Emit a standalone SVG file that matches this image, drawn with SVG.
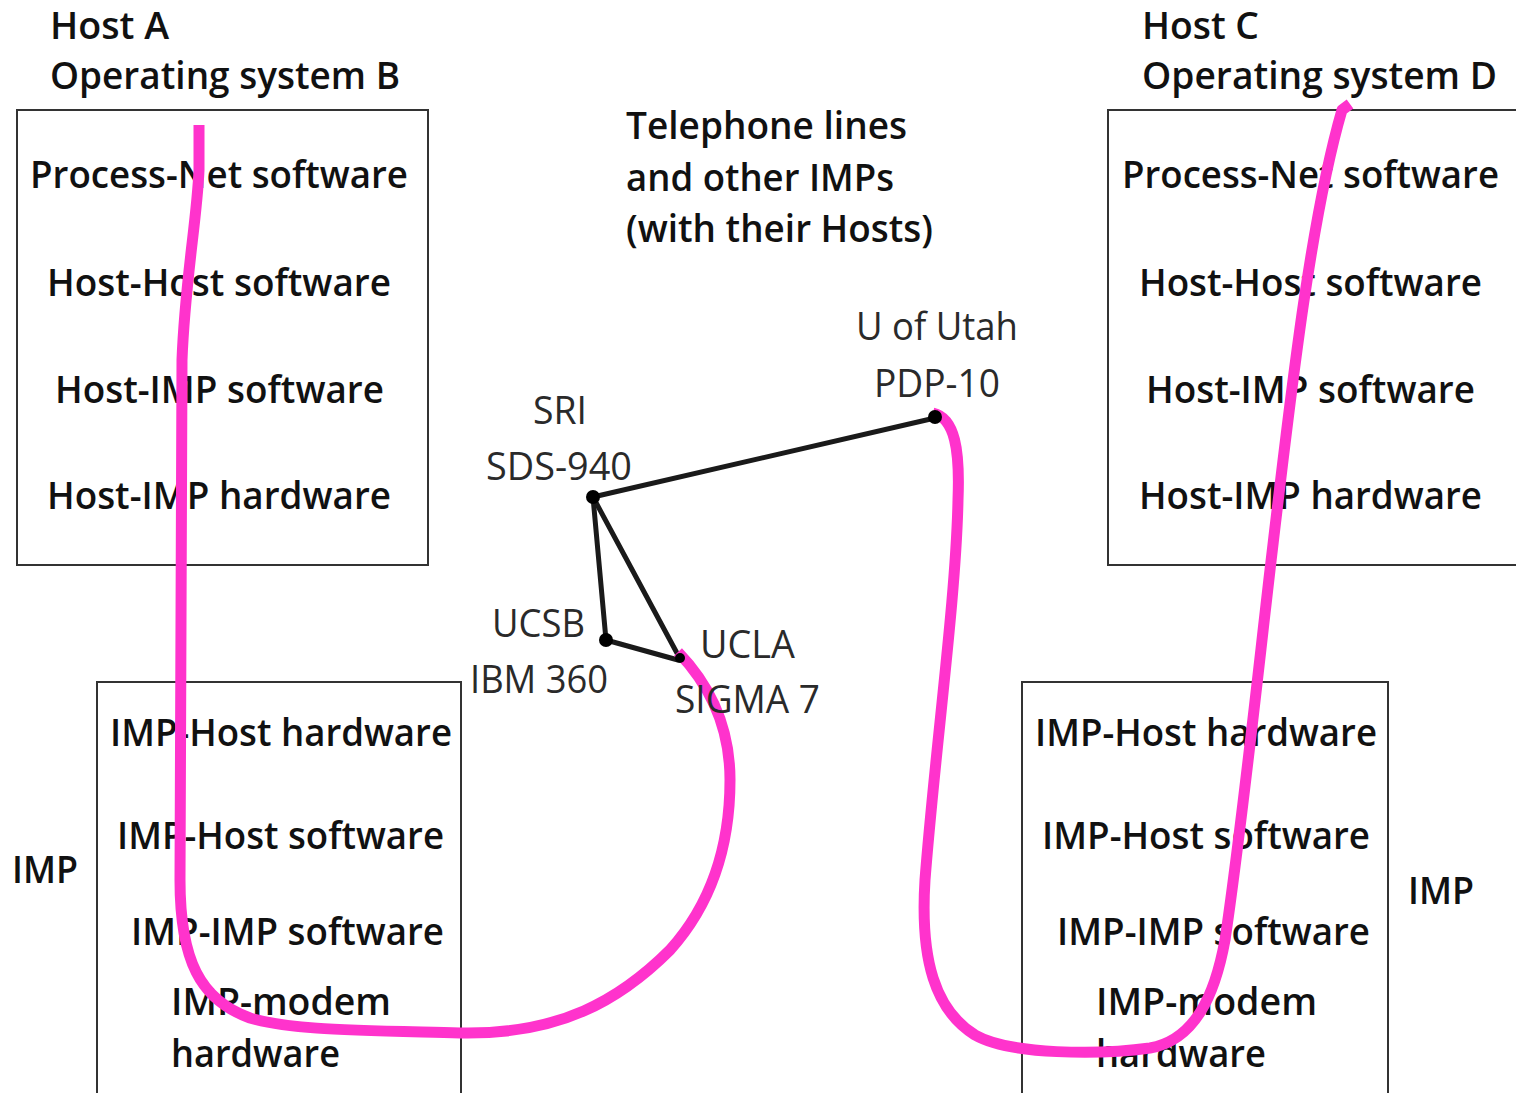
<svg xmlns="http://www.w3.org/2000/svg" width="1516" height="1093" viewBox="0 0 1516 1093">
<style>
text{font-family:"Open Sans","Noto Sans","Liberation Sans",sans-serif;fill:#111;font-size:37px;font-weight:600}
.sm{fill:#2a2a2a;font-size:38px;font-weight:400}
.box{fill:none;stroke:#333;stroke-width:2}
.link{stroke:#1a1a1a;stroke-width:5;fill:none;stroke-linecap:round}
.dot{fill:#000}
.pink{fill:none;stroke:#ff33cc;stroke-width:11;stroke-linecap:butt;stroke-linejoin:round}
</style>
<rect width="1516" height="1093" fill="#fff"/>
<g id="hostA">
<text x="50" y="39" textLength="119" lengthAdjust="spacingAndGlyphs">Host A</text>
<text x="50" y="89" textLength="350" lengthAdjust="spacingAndGlyphs">Operating system B</text>
<rect class="box" x="17" y="110" width="411" height="455"/>
<text x="30" y="188" textLength="378" lengthAdjust="spacingAndGlyphs">Process-Net software</text>
<text x="47" y="296" textLength="344" lengthAdjust="spacingAndGlyphs">Host-Host software</text>
<text x="55" y="403" textLength="329" lengthAdjust="spacingAndGlyphs">Host-IMP software</text>
<text x="47" y="509" textLength="344" lengthAdjust="spacingAndGlyphs">Host-IMP hardware</text>
</g>
<g id="hostC">
<text x="1142" y="39" textLength="117" lengthAdjust="spacingAndGlyphs">Host C</text>
<text x="1142" y="89" textLength="355" lengthAdjust="spacingAndGlyphs">Operating system D</text>
<rect class="box" x="1108" y="110" width="420" height="455"/>
<text x="1122" y="188" textLength="377" lengthAdjust="spacingAndGlyphs">Process-Net software</text>
<text x="1139" y="296" textLength="343" lengthAdjust="spacingAndGlyphs">Host-Host software</text>
<text x="1146" y="403" textLength="329" lengthAdjust="spacingAndGlyphs">Host-IMP software</text>
<text x="1139" y="509" textLength="343" lengthAdjust="spacingAndGlyphs">Host-IMP hardware</text>
</g>
<g id="telephone">
<text x="626" y="139" textLength="281" lengthAdjust="spacingAndGlyphs">Telephone lines</text>
<text x="626" y="191" textLength="268" lengthAdjust="spacingAndGlyphs">and other IMPs</text>
<text x="626" y="242" textLength="307" lengthAdjust="spacingAndGlyphs">(with their Hosts)</text>
</g>
<g id="impLeft">
<text x="12" y="883" textLength="66" lengthAdjust="spacingAndGlyphs">IMP</text>
<rect class="box" x="97" y="682" width="364" height="430"/>
<text x="110" y="746" textLength="342" lengthAdjust="spacingAndGlyphs">IMP-Host hardware</text>
<text x="117" y="849" textLength="327" lengthAdjust="spacingAndGlyphs">IMP-Host software</text>
<text x="131" y="945" textLength="313" lengthAdjust="spacingAndGlyphs">IMP-IMP software</text>
<text x="171" y="1015" textLength="220" lengthAdjust="spacingAndGlyphs">IMP-modem</text>
<text x="171" y="1067" textLength="169" lengthAdjust="spacingAndGlyphs">hardware</text>
</g>
<g id="impRight">
<text x="1408" y="904" textLength="66" lengthAdjust="spacingAndGlyphs">IMP</text>
<rect class="box" x="1022" y="682" width="366" height="430"/>
<text x="1035" y="746" textLength="342" lengthAdjust="spacingAndGlyphs">IMP-Host hardware</text>
<text x="1042" y="849" textLength="328" lengthAdjust="spacingAndGlyphs">IMP-Host software</text>
<text x="1057" y="945" textLength="313" lengthAdjust="spacingAndGlyphs">IMP-IMP software</text>
<text x="1096" y="1015" textLength="221" lengthAdjust="spacingAndGlyphs">IMP-modem</text>
<text x="1096" y="1067" textLength="170" lengthAdjust="spacingAndGlyphs">hardware</text>
</g>
<g id="connectors">
<line class="link" x1="593" y1="497" x2="935" y2="418"/>
<line class="link" x1="593" y1="497" x2="606" y2="640"/>
<line class="link" x1="593" y1="497" x2="678" y2="655"/>
<line class="link" x1="606" y1="640" x2="678" y2="660"/>
<path class="pink" d="M199,125 L199,170 C197,220 185,280 182,360 L180,880 C180,960 200,1000 250,1018 C290,1030 350,1030 460,1033 C560,1035 620,1000 670,950 C715,900 730,840 730,780 C730,720 705,680 678,652"/>
<path class="pink" d="M933,413 C955,418 960,450 958,500 C956,600 935,750 925,880 C920,960 935,1010 975,1035 C1010,1055 1100,1055 1150,1048 C1195,1040 1215,995 1225,940 C1240,840 1255,700 1270,570 C1290,400 1310,220 1342,110 L1350,104"/>
</g>
<g id="sri">
<circle class="dot" cx="593" cy="497" r="7"/>
<text class="sm" x="533" y="424" textLength="54" lengthAdjust="spacingAndGlyphs">SRI</text>
<text class="sm" x="486" y="480" textLength="146" lengthAdjust="spacingAndGlyphs">SDS-940</text>
</g>
<g id="utah">
<circle class="dot" cx="935" cy="417" r="7"/>
<text class="sm" x="856" y="340" textLength="162" lengthAdjust="spacingAndGlyphs">U of Utah</text>
<text class="sm" x="874" y="397" textLength="126" lengthAdjust="spacingAndGlyphs">PDP-10</text>
</g>
<g id="ucsb">
<circle class="dot" cx="606" cy="640" r="7"/>
<text class="sm" x="492" y="637" textLength="93" lengthAdjust="spacingAndGlyphs">UCSB</text>
<text class="sm" x="470" y="693" textLength="138" lengthAdjust="spacingAndGlyphs">IBM 360</text>
</g>
<g id="ucla">
<circle class="dot" cx="680" cy="658" r="5"/>
<text class="sm" x="700" y="658" textLength="95" lengthAdjust="spacingAndGlyphs">UCLA</text>
<text class="sm" x="675" y="713" textLength="145" lengthAdjust="spacingAndGlyphs">SIGMA 7</text>
</g>
</svg>
